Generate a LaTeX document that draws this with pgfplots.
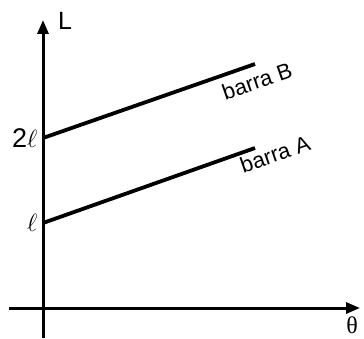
\documentclass[border=0pt]{standalone}
\usepackage{pgfplots}
\pgfplotsset{compat=1.18}
\usepackage{fontspec}
\setmainfont{Liberation Sans}
\newfontfamily\serif{Liberation Serif}
\usetikzlibrary{arrows.meta}
\begin{document}
\begin{tikzpicture}[x=1pt,y=1pt]
\useasboundingbox (0,0) rectangle (364,338);
\begin{axis}[
  at={(9pt,0pt)}, anchor=south west,
  scale only axis, width=351pt, height=318pt,
  xmin=-34, xmax=317, ymin=-30, ymax=288,
  axis lines=middle,
  axis line style={line width=3pt, -{Triangle[length=14pt,width=11pt]}},
  xtick=\empty,
  ytick={85,170}, yticklabels={$\ell$, 2$\ell$},
  major tick length=0pt,
  yticklabel style={font=\fontsize{27}{30}\selectfont, anchor=east, xshift=-2pt},
  clip=false,
]
\addplot[black, line width=3.8pt] coordinates {(0,85) (212,160)};
\addplot[black, line width=3.8pt] coordinates {(0,170) (212,244)};
\node[rotate=19, font=\fontsize{22}{24}\selectfont] at (axis cs:214,227) {barra B};
\node[rotate=19, font=\fontsize{22}{24}\selectfont] at (axis cs:232,154) {barra A};
\node[font=\fontsize{25}{28}\selectfont] at (axis cs:22,287) {L};
\node[font=\serif\fontsize{24}{28}\selectfont] at (axis cs:309,-17) {θ};
\end{axis}
\end{tikzpicture}
\end{document}
